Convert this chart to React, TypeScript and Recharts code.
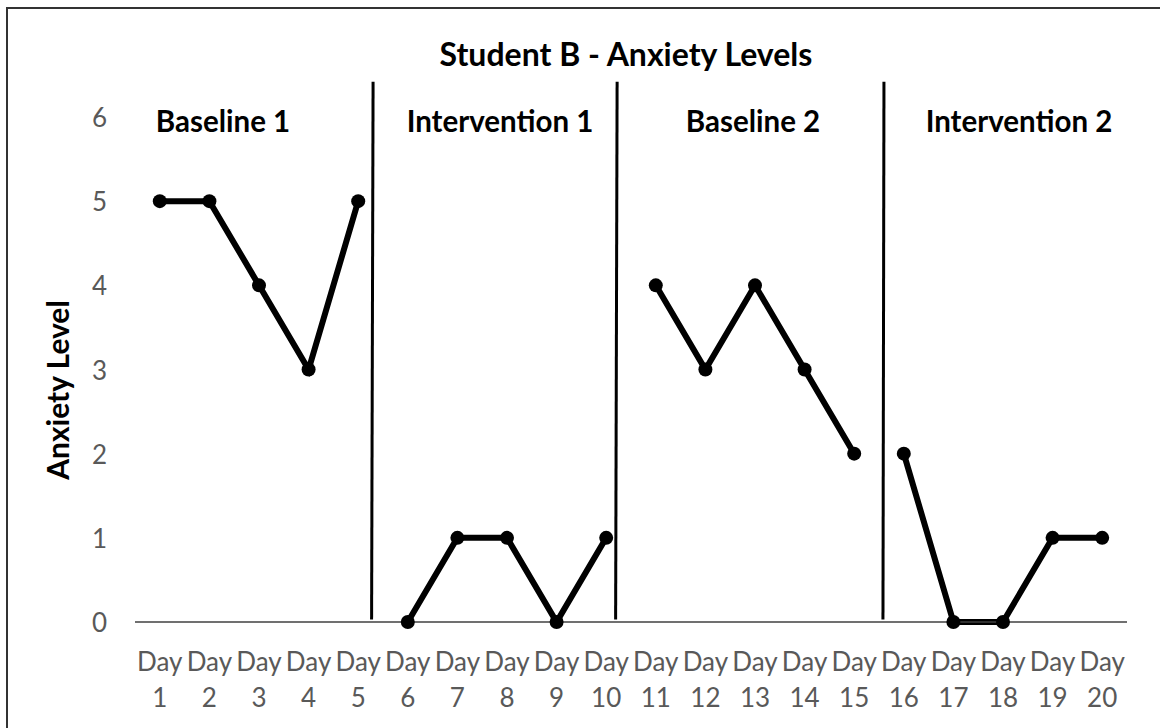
import { LineChart, Line, XAxis, YAxis, ReferenceLine, Customized } from 'recharts';

// day numbers shown under each "Day" tick
const days = ['1', '2', '3', '4', '5', '6', '7', '8', '9', '10', '11', '12', '13', '14', '15', '16', '17', '18', '19', '20'];

// anxiety level per phase, five days each
const baseline1 = [5, 5, 4, 3, 5];
const intervention1 = [0, 1, 1, 0, 1];
const baseline2 = [4, 3, 4, 3, 2];
const intervention2 = [2, 0, 0, 1, 1];

const phaseNames = ['Baseline 1', 'Intervention 1', 'Baseline 2', 'Intervention 2'];
const phaseValues = [baseline1, intervention1, baseline2, intervention2];

const yTicks = [0, 1, 2, 3, 4, 5, 6];

// hand-drawn phase dividers, in data units (top then bottom)
const phaseLines = [
  [{ x: 5.3, y: 6.42 }, { x: 5.27, y: 0.03 }],
  [{ x: 10.22, y: 6.42 }, { x: 10.19, y: 0.03 }],
  [{ x: 15.6, y: 6.42 }, { x: 15.58, y: 0.03 }],
];

const data = days.map((d, i) => {
  const row: any = { day: Number(d) };
  phaseValues.forEach((vals, p) => {
    const idx = i - p * 5;
    row[`p${p}`] = idx >= 0 && idx < vals.length ? vals[idx] : null;
  });
  return row;
});

const FONT = 'Lato, "Open Sans", sans-serif';
const GREY = '#595959';

const DayTick = ({ x, y, payload }: any) => (
  <text x={x} textAnchor="middle" fill={GREY} fontFamily={FONT} fontSize={26}>
    <tspan x={x} y={y + 41}>Day</tspan>
    <tspan x={x} y={y + 77}>{payload.value}</tspan>
  </text>
);

const LevelTick = ({ x, y, payload }: any) => (
  <text x={x} y={y + 10} textAnchor="end" fill={GREY} fontFamily={FONT} fontSize={26}>
    {payload.value}
  </text>
);

const labelPos = [
  { x: 223, y: 132 },
  { x: 500, y: 132 },
  { x: 753, y: 132 },
  { x: 1019, y: 132 },
];

const Texts = () => (
  <g fontFamily={FONT} fontWeight="bold" fill="#000">
    <text x={626} y={66} textAnchor="middle" fontSize={32}>
      Student B - Anxiety Levels
    </text>
    {phaseNames.map((n, i) => (
      <text key={n} x={labelPos[i].x} y={labelPos[i].y} textAnchor="middle" fontSize={29.5}>
        {n}
      </text>
    ))}
    <text
      x={0}
      y={0}
      transform="translate(69, 390) rotate(-90)"
      textAnchor="middle"
      fontSize={30}
    >
      Anxiety Level
    </text>
  </g>
);

export default function App() {
  return (
    <div style={{ position: 'absolute', left: 0, top: 0, width: 1160, height: 728, background: '#fff' }}>
      <div
        style={{
          position: 'absolute',
          left: 6,
          top: 7,
          width: 1154,
          height: 721,
          borderLeft: '2px solid #333',
          borderTop: '2px solid #333',
          boxSizing: 'border-box',
        }}
      />
      <LineChart
        width={1160}
        height={728}
        data={data}
        margin={{ top: 117, right: 33, bottom: 76, left: 0 }}
        style={{ position: 'absolute', left: 0, top: 0 }}
      >
        <XAxis
          dataKey="day"
          type="number"
          domain={[0.5, 20.5]}
          ticks={days.map(Number)}
          interval={0}
          height={30}
          tickLine={false}
          axisLine={{ stroke: '#404040', strokeWidth: 1.5 }}
          tick={<DayTick />}
        />
        <YAxis
          domain={[0, 6]}
          ticks={yTicks}
          width={135}
          axisLine={false}
          tickLine={false}
          tickSize={0}
          tickMargin={28}
          tick={<LevelTick />}
        />
        {phaseLines.map((seg, i) => (
          <ReferenceLine key={i} segment={seg} stroke="#000" strokeWidth={3} ifOverflow="visible" />
        ))}
        {phaseValues.map((_, p) => (
          <Line
            key={p}
            dataKey={`p${p}`}
            stroke="#000"
            strokeWidth={6}
            dot={{ r: 7, fill: '#000', stroke: '#000', strokeWidth: 0 }}
            activeDot={false}
            connectNulls={false}
            isAnimationActive={false}
          />
        ))}
        <Customized component={Texts} />
      </LineChart>
    </div>
  );
}
